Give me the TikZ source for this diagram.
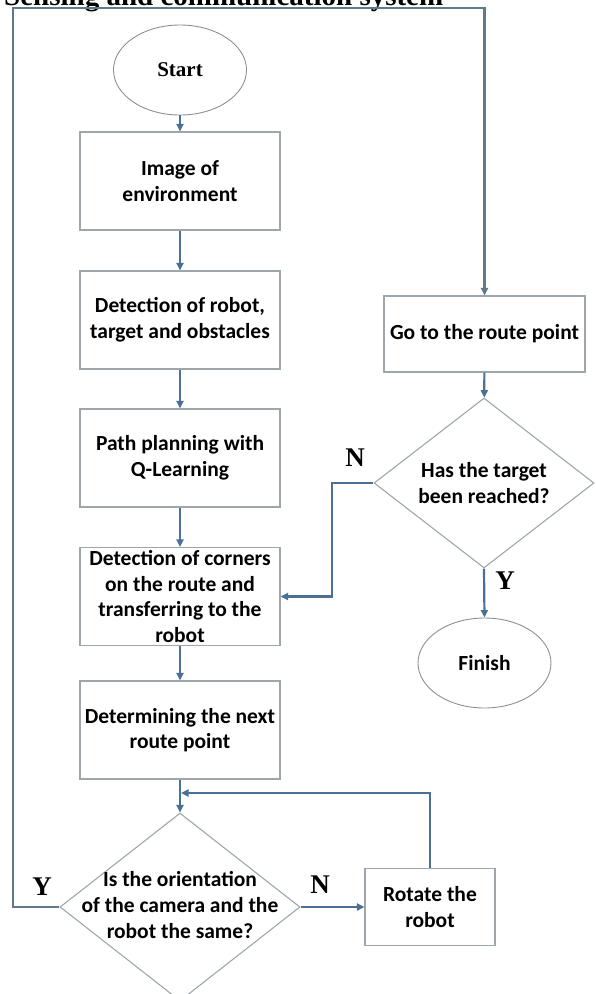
\documentclass[tikz,border=0pt]{standalone}
\usepackage{fontspec}
\setmainfont{Liberation Serif}
\newfontfamily\calibrifont{Carlito}
\usetikzlibrary{shapes.geometric,arrows.meta,positioning}
\definecolor{flowblue}{RGB}{74,112,150}
\definecolor{loopgray}{RGB}{96,122,138}
\definecolor{boxgray}{RGB}{158,166,172}
\definecolor{ovalgray}{RGB}{138,144,150}

\begin{document}
\begin{tikzpicture}[x=1pt, y=-1pt, >={Triangle[length=7.5pt,width=7pt]},
  procbox/.style={rectangle, draw=boxgray, line width=1.1pt, minimum width=200pt, minimum height=98pt, inner sep=1pt, align=center, font=\calibrifont\bfseries\fontsize{21.5}{25.5}\selectfont},
  termoval/.style={ellipse, draw=ovalgray, line width=0.9pt, minimum width=133pt, minimum height=90pt, inner sep=0pt},
  decision/.style={diamond, draw=boxgray, line width=1.1pt, inner sep=0pt},
  dectext/.style={align=center, inner sep=0pt, font=\calibrifont\bfseries\fontsize{21.5}{26}\selectfont},
  yesno/.style={inner sep=0pt, font=\bfseries\fontsize{27}{27}\selectfont},
  flow/.style={->, draw=flowblue, line width=2.2pt},
  loopline/.style={->, draw=loopgray, line width=2.2pt}]
\useasboundingbox (0,0) rectangle (596,994);
% Caption cut at the top edge
\node[anchor=base west, inner sep=0pt, font=\bfseries\fontsize{29}{30}\selectfont] (title) at (4,5) {Sensing and communication system};
% Left column
\node[termoval, font=\bfseries\fontsize{21}{24}\selectfont] (start) at (180,70) {Start};
\node[procbox] (img) at (180,181) {Image of\\environment};
\node[procbox] (det) at (180,320) {Detection of robot,\\target and obstacles};
\node[procbox] (plan) at (180,458) {Path planning with\\Q-Learning};
\node[procbox] (corn) at (180,596.5) {Detection of corners\\on the route and\\transferring to the\\robot};
\node[procbox] (next) at (180,730) {Determining the next\\route point};
\node[decision, minimum width=240pt, minimum height=188pt] (orient) at (180,907) {};
\node[dectext] (orienttxt) at (180,905) {Is the orientation\\of the camera and the\\robot the same?};
\node[procbox, minimum width=130pt, minimum height=77pt] (rot) at (430,907) {Rotate the\\robot};
% Right column
\node[procbox, minimum width=201pt, minimum height=76pt] (goto) at (484.5,334) {Go to the route point};
\node[decision, minimum width=220pt, minimum height=170pt] (target) at (484,483) {};
\node[dectext] (targettxt) at (484,483) {Has the target\\been reached?};
\node[termoval, font=\calibrifont\bfseries\fontsize{21.5}{24}\selectfont] (finish) at (484.5,663) {Finish};
% Branch letters
\node[yesno] (targetno) at (355,458) {N};
\node[yesno] (targetyes) at (505,581) {Y};
\node[yesno] (orientyes) at (42,887) {Y};
\node[yesno] (orientno) at (320,885) {N};
% Bend points
\coordinate (looptl) at (13,8);
\coordinate (nbend) at (332,483);
\coordinate (merge) at (181,793);
% Main sequence
\draw[flow] (start) -- (img);
\draw[flow] (img) -- (det);
\draw[flow] (det) -- (plan);
\draw[flow] (plan) -- (corn);
\draw[flow] (corn) -- (next);
\draw[flow] (next) -- (orient);
% Orientation check
\draw[flow] (orient.east) -- (rot.west);
\draw[flow] (rot.north) |- (merge);
\draw[loopline] (orient.west) -| (looptl) -| (goto.north);
% Target check
\draw[flow] (goto) -- (target);
\draw[flow] (target.south) -- (finish.north);
\draw[flow] (target.west) -- (nbend) |- (corn.east);
\end{tikzpicture}
\end{document}
